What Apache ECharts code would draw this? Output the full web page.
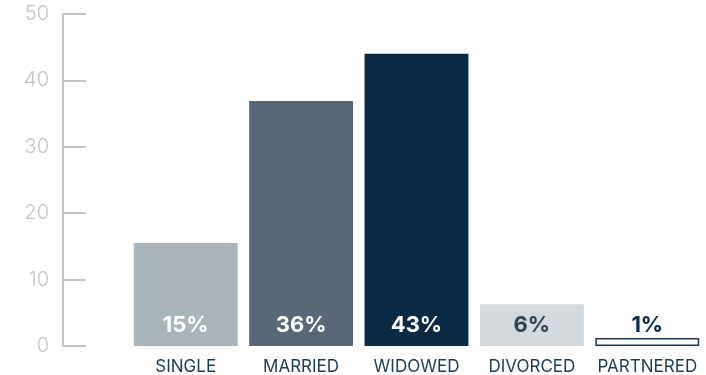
<!DOCTYPE html>
<html><head><meta charset="utf-8">
<script src="https://cdn.jsdelivr.net/npm/echarts@6/dist/echarts.min.js"></script>
<style>html,body{margin:0;padding:0;background:#fff}#c{width:706px;height:375px}</style>
</head><body><div id="c"></div>
<script>
const categories = ['SINGLE','MARRIED','WIDOWED','DIVORCED','PARTNERED'];
const values = [15.5, 36.9, 44, 6.3, 1.2];
const labels = ['15%','36%','43%','6%','1%'];
const colors = ['#a9b4bb','#596878','#0a2a44','#d4d9dd','#ffffff'];
const labelColors = ['#ffffff','#ffffff','#ffffff','#2e4257','#0f2a45'];
const yTicks = [0,10,20,30,40,50];

const chart = echarts.init(document.getElementById('c'));
chart.setOption({
  animation:false,
  grid:{left:128,right:1,top:14,bottom:28,containLabel:false},
  xAxis:{type:'category',data:categories,
    axisLine:{show:false},axisTick:{show:false},
    axisLabel:{interval:0,color:'#1d3a55',fontSize:17,fontFamily:'Inter',margin:12}},
  yAxis:{type:'value',min:yTicks[0],max:yTicks[yTicks.length-1],interval:10,offset:65,
    splitLine:{show:false},
    axisLine:{show:true,lineStyle:{color:'#c4c4c4',width:2}},
    axisTick:{show:true,inside:true,length:23,lineStyle:{color:'#c4c4c4',width:2}},
    axisLabel:{color:'#c4c4c4',fontSize:20,fontFamily:'Inter',fontWeight:300,margin:14}},
  series:[{type:'bar',barCategoryGap:'10%',
    data:values.map((v,i)=>({value:v,
      itemStyle:{color:colors[i],borderColor:i===4?'#1d3a55':colors[i],borderWidth:i===4?1.5:0},
      label:{show:true,position:'insideBottom',distance:10,formatter:labels[i],color:labelColors[i],
        fontSize:22,fontWeight:'bold',fontFamily:'Inter'}}))
  }]
});
</script></body></html>
